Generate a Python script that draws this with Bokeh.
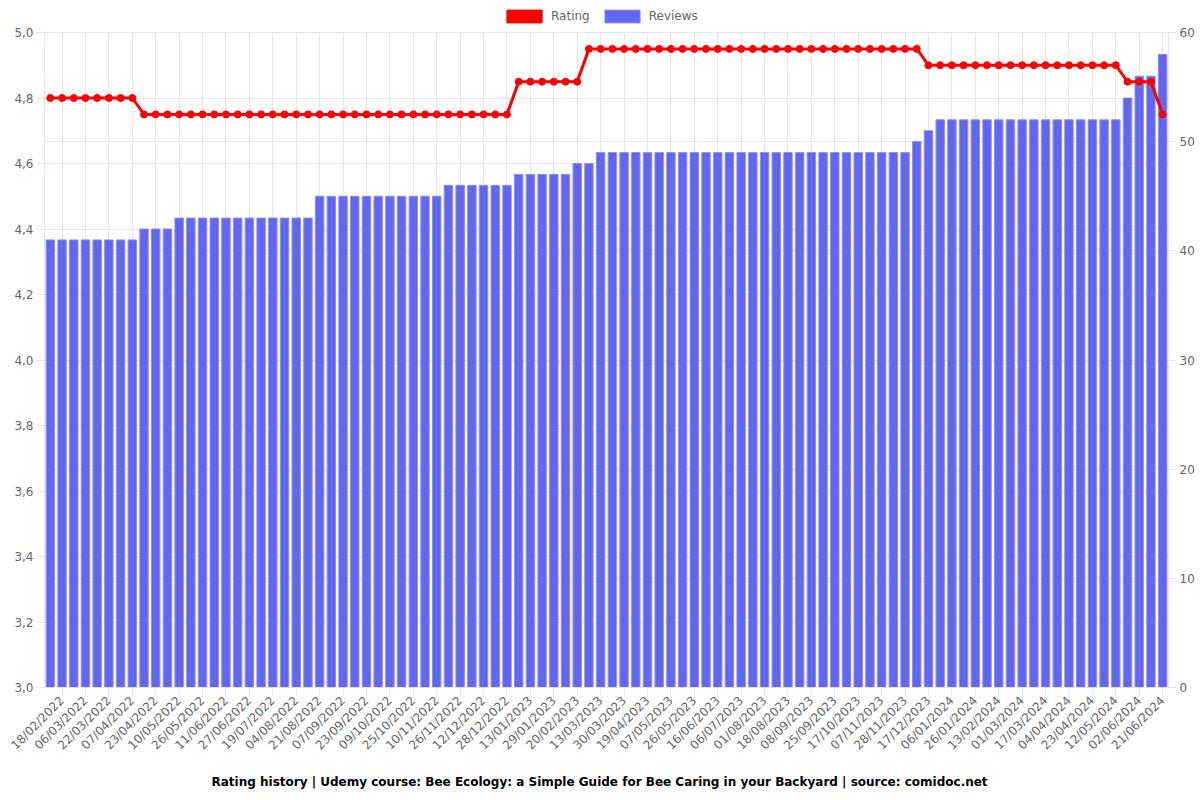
import math
from bokeh.plotting import figure
from bokeh.models import (Range1d, LinearAxis, FixedTicker, Grid, Legend, LegendItem,
                          Title, ColumnDataSource, BoxAnnotation)
from bokeh.embed import file_html
from bokeh.resources import INLINE

# ---- data ----
tick_labels = ["18/02/2022", "06/03/2022", "22/03/2022", "07/04/2022", "23/04/2022", "10/05/2022",
               "26/05/2022", "11/06/2022", "27/06/2022", "19/07/2022", "04/08/2022", "21/08/2022",
               "07/09/2022", "23/09/2022", "09/10/2022", "25/10/2022", "10/11/2022", "26/11/2022",
               "12/12/2022", "28/12/2022", "13/01/2023", "29/01/2023", "20/02/2023", "13/03/2023",
               "30/03/2023", "19/04/2023", "07/05/2023", "26/05/2023", "16/06/2023", "06/07/2023",
               "01/08/2023", "18/08/2023", "08/09/2023", "25/09/2023", "17/10/2023", "07/11/2023",
               "28/11/2023", "17/12/2023", "06/01/2024", "26/01/2024", "13/02/2024", "01/03/2024",
               "17/03/2024", "04/04/2024", "23/04/2024", "12/05/2024", "02/06/2024", "21/06/2024"]

reviews = [41, 41, 41, 41, 41, 41, 41, 41,
           42, 42, 42,
           43, 43, 43, 43, 43, 43, 43, 43, 43, 43, 43, 43,
           45, 45, 45, 45, 45, 45, 45, 45, 45, 45, 45,
           46, 46, 46, 46, 46, 46,
           47, 47, 47, 47, 47,
           48, 48,
           49, 49, 49, 49, 49, 49, 49, 49, 49, 49, 49, 49, 49, 49, 49, 49, 49, 49, 49, 49, 49,
           49, 49, 49, 49, 49, 49,
           50, 51,
           52, 52, 52, 52, 52, 52, 52, 52, 52, 52, 52, 52, 52, 52, 52, 52,
           54, 56, 56, 58]

ratings = [4.8, 4.8, 4.8, 4.8, 4.8, 4.8, 4.8, 4.8,
           4.75, 4.75, 4.75, 4.75, 4.75, 4.75, 4.75, 4.75, 4.75, 4.75, 4.75, 4.75, 4.75, 4.75,
           4.75, 4.75, 4.75, 4.75, 4.75, 4.75, 4.75, 4.75, 4.75, 4.75, 4.75, 4.75, 4.75, 4.75,
           4.75, 4.75, 4.75, 4.75,
           4.85, 4.85, 4.85, 4.85, 4.85, 4.85,
           4.95, 4.95, 4.95, 4.95, 4.95, 4.95, 4.95, 4.95, 4.95, 4.95, 4.95, 4.95, 4.95, 4.95,
           4.95, 4.95, 4.95, 4.95, 4.95, 4.95, 4.95, 4.95, 4.95, 4.95, 4.95, 4.95, 4.95, 4.95, 4.95,
           4.9, 4.9, 4.9, 4.9, 4.9, 4.9, 4.9, 4.9, 4.9, 4.9, 4.9, 4.9, 4.9, 4.9, 4.9, 4.9, 4.9,
           4.85, 4.85, 4.85,
           4.75]

rating_ticks = [3.0, 3.2, 3.4, 3.6, 3.8, 4.0, 4.2, 4.4, 4.6, 4.8, 5.0]
review_ticks = [0, 10, 20, 30, 40, 50, 60]

title_text = ("Rating history | Udemy course: Bee Ecology: a Simple Guide for Bee Caring "
              "in your Backyard | source: comidoc.net")

# ---- layout constants ----
W, H = 1200, 800
PLOT_TOP = 32          # px from canvas top where the value area starts
PLOT_BOTTOM = 687      # px from canvas top where the value area ends
LEFT, RIGHT = 44, 32
r_lo, r_hi = rating_ticks[0], rating_ticks[-1]
v_lo, v_hi = review_ticks[0], review_ticks[-1]
span_px = PLOT_BOTTOM - PLOT_TOP
# extend the frame to the canvas top so the legend can live inside it
r_top = r_hi + (r_hi - r_lo) * PLOT_TOP / span_px
v_top = v_hi + (v_hi - v_lo) * PLOT_TOP / span_px

# ---- figure ----
n = len(reviews)
xs = list(range(n))
label_pos = xs[1::2]

src = ColumnDataSource(dict(x=xs, reviews=reviews, rating=ratings))

FONT = "DejaVu Sans"
GRID = "#e6e6e6"
TXT = "#666666"

p = figure(width=W, height=H, output_backend="svg", toolbar_location=None,
           x_range=Range1d(-0.5, n - 0.5), y_range=Range1d(r_lo, r_top),
           min_border_left=LEFT, min_border_right=RIGHT, min_border_top=0,
           min_border_bottom=H - PLOT_BOTTOM, outline_line_color=None)
p.extra_y_ranges = {"reviews": Range1d(v_lo, v_top)}

bars = p.vbar(x="x", top="reviews", width=0.72, source=src, y_range_name="reviews",
              fill_color="#6366f1", line_color="#8a8cf5", line_width=1)
# zero-size proxy (hidden under the line) giving the filled red legend swatch
proxy = p.vbar(x="x", top="rating", bottom="rating", width=0, source=src,
               fill_color="#ff0000", line_color="#ff0000", line_width=1)
p.line("x", "rating", source=src, line_color="#ff0000", line_width=3)
p.scatter("x", "rating", source=src, size=7, fill_color="#ff0000", line_color="#ff0000")

# axes
xa = p.xaxis[0]
xa.ticker = FixedTicker(ticks=label_pos)
xa.major_label_overrides = {pos: lab for pos, lab in zip(label_pos, tick_labels)}
xa.major_label_orientation = math.pi / 4

ya = p.yaxis[0]
ya.ticker = FixedTicker(ticks=rating_ticks)
ya.major_label_overrides = {t: ("%.1f" % t).replace(".", ",") for t in rating_ticks}
ya.bounds = (r_lo, r_hi)

ra = LinearAxis(y_range_name="reviews", ticker=FixedTicker(ticks=review_ticks),
                bounds=(v_lo, v_hi))
p.add_layout(ra, "right")

for ax in (xa, ya, ra):
    ax.axis_line_color = GRID
    ax.major_tick_line_color = GRID
    ax.major_tick_out = 8
    ax.major_tick_in = 0
    ax.minor_tick_line_color = None
    ax.major_label_text_font = FONT
    ax.major_label_text_font_size = "12px"
    ax.major_label_text_color = TXT
    ax.major_label_standoff = 3

# grids
p.xgrid.ticker = FixedTicker(ticks=label_pos)
p.xgrid.grid_line_color = GRID
p.ygrid.grid_line_color = GRID
g2 = Grid(dimension=1, ticker=FixedTicker(ticks=review_ticks), y_range_name="reviews",
          grid_line_color=GRID)
p.add_layout(g2)

# white band above the value area hides the vertical grid lines there
band_bottom = r_hi + (r_hi - r_lo) * 0.6 / span_px
p.add_layout(BoxAnnotation(bottom=band_bottom, fill_color="white", fill_alpha=1.0,
                           line_alpha=0, level="underlay"))

# legend in the band above the value area
legend = Legend(items=[LegendItem(label="Rating", renderers=[proxy]),
                       LegendItem(label="Reviews", renderers=[bars])],
                orientation="horizontal", location=(458, PLOT_BOTTOM - 24),
                glyph_width=44, glyph_height=16, label_standoff=5, spacing=10,
                label_text_font=FONT, label_text_font_size="12px", label_text_color=TXT,
                border_line_alpha=0, background_fill_alpha=0, padding=0, margin=0)
p.add_layout(legend)

# title at bottom
t = Title(text=title_text, align="left", text_font=FONT, text_font_size="12px",
          text_font_style="bold", text_color="#000000", standoff=24, offset=167)
p.add_layout(t, "below")

open("out.html", "w").write(file_html(p, INLINE))
